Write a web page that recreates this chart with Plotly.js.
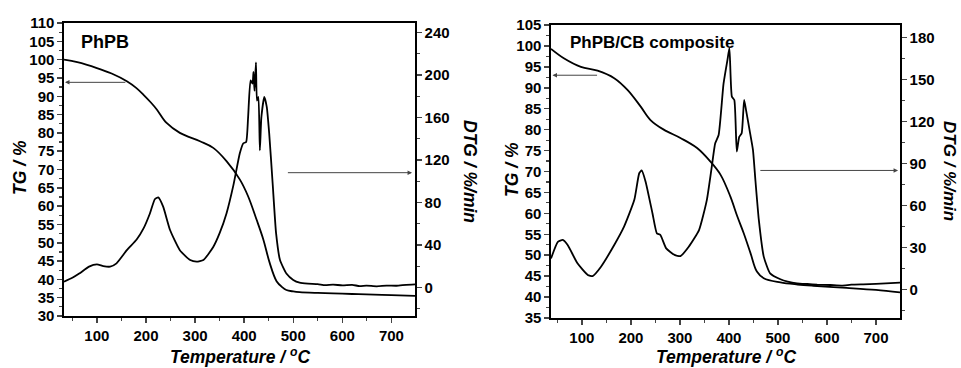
<!DOCTYPE html>
<html>
<head>
<meta charset="utf-8">
<script src="https://cdn.plot.ly/plotly-3.0.1.min.js"></script>
<style>html,body{margin:0;padding:0;background:#fff}#chart{width:961px;height:368px}</style>
</head>
<body>
<div id="chart"></div>
<script>
// ---- PhPB (left panel) ----
const tgT1 = [33, 60, 100, 130, 161, 180, 195, 210, 222, 242, 269, 310, 337, 364, 391, 408, 425, 439, 452, 466, 478, 486, 500, 513, 550, 581, 620, 649, 700, 748];
const tgV1 = [100, 99.3, 97.7, 96.2, 94.1, 92.3, 90.4, 88.3, 86.4, 82.7, 80, 77.7, 75.9, 72.3, 67.3, 62.7, 56.4, 50.9, 44.5, 39.5, 37.8, 37.1, 36.7, 36.5, 36.3, 36.2, 36.0, 35.9, 35.7, 35.5];
const dtgT1 = [33, 50, 64, 84, 100, 113, 127, 140, 161, 181, 195, 208, 218, 225, 235, 249, 269, 290, 303, 317, 337, 350, 364, 378, 391, 398, 404, 408, 413, 417, 419, 421, 424, 426, 429, 432, 435, 441, 446, 451, 458, 465, 473, 486, 500, 513, 530, 550, 565, 581, 600, 620, 635, 649, 670, 690, 710, 730, 748];
const dtgV1 = [5.3, 9, 13, 19.5, 21.6, 20, 19.5, 22.6, 35, 45, 55.5, 69.6, 83, 84.7, 76, 54, 35, 25.7, 24.2, 25.7, 38, 51, 69.6, 96, 126, 135.5, 137, 160, 195, 192, 203, 185, 212, 176, 179.5, 129, 160, 179.5, 170, 145, 98, 51, 25.7, 13, 7, 4.4, 3.5, 3.0, 2.0, 2.6, 1.8, 2.3, 1.2, 1.6, 1.0, 1.7, 1.5, 2.4, 2.8];

// ---- PhPB/CB composite (right panel) ----
const tgT2 = [37, 64, 98, 132, 166, 193, 220, 240, 267, 301, 335, 362, 383, 403, 417, 430, 444, 457, 471, 505, 540, 572, 640, 700, 749];
const tgV2 = [99.3, 97, 95, 94.1, 92.3, 89.5, 85.5, 82.3, 80, 78, 75.6, 72.4, 69.2, 64, 59.3, 55.3, 50.5, 46.1, 44.5, 43.5, 43.0, 42.7, 42.2, 41.7, 41.1];
const dtgT2 = [37, 51, 61, 71, 91, 112, 122, 139, 166, 186, 207, 217, 222, 230, 244, 253, 260, 272, 289, 301, 318, 339, 355, 365, 372, 379, 389, 397, 401, 406, 411, 416, 421, 426, 431, 435, 442, 449, 454, 461, 471, 484, 505, 520, 539, 560, 580, 607, 630, 650, 674, 700, 720, 749];
const dtgV2 = [22, 34, 35.3, 31.7, 18.6, 10.3, 9.5, 16.2, 31.7, 44.8, 64, 83, 85, 77, 54.4, 40, 38.9, 29.3, 24.6, 23.8, 30.5, 42.4, 64, 87.7, 104.4, 110.4, 147, 164, 172.4, 137.8, 135.4, 98.5, 109, 111.6, 135.4, 128, 114, 99.7, 78, 49.6, 23.4, 11.4, 7.2, 5.5, 4.3, 3.8, 3.4, 3.1, 2.7, 3.3, 3.6, 3.9, 4.3, 4.8];

const xTicks = [100, 200, 300, 400, 500, 600, 700];

const FONT = "'Liberation Sans', Arial, sans-serif";
const smooth = {color: '#000', width: 1.8, shape: 'spline', smoothing: 1};
const dline = {color: '#000', width: 1.8, shape: 'spline', smoothing: 0.5};
const traces = [
  {x: tgT1, y: tgV1, xaxis: 'x', yaxis: 'y', mode: 'lines', line: smooth, hoverinfo: 'skip'},
  {x: dtgT1, y: dtgV1, xaxis: 'x', yaxis: 'y2', mode: 'lines', line: dline, hoverinfo: 'skip'},
  {x: tgT2, y: tgV2, xaxis: 'x2', yaxis: 'y3', mode: 'lines', line: smooth, hoverinfo: 'skip'},
  {x: dtgT2, y: dtgV2, xaxis: 'x2', yaxis: 'y4', mode: 'lines', line: dline, hoverinfo: 'skip'}
];

const W = 961, H = 368;
const tickFont = {family: FONT, size: 15, color: '#000', weight: 'bold'};
function xa(dom, range, anchor) {
  return {domain: dom, range: range, anchor: anchor, tickvals: xTicks, ticks: 'outside', ticklen: 5, tickwidth: 1.5,
    minor: {dtick: 50, tick0: 0, ticks: 'outside', ticklen: 3, tickwidth: 1.2},
    showline: true, linewidth: 1.6, linecolor: '#000', mirror: true, showgrid: false, zeroline: false,
    tickfont: tickFont, fixedrange: true};
}
function ya(dom, range, dtick, anchor, side, overlay) {
  const o = {domain: dom, range: range, anchor: anchor, side: side, dtick: dtick, tick0: 0, ticks: 'outside', ticklen: 5, tickwidth: 1.5,
    minor: {dtick: dtick / 2, tick0: 0, ticks: 'outside', ticklen: 3, tickwidth: 1.2},
    showline: true, linewidth: 1.6, linecolor: '#000', showgrid: false, zeroline: false,
    tickfont: tickFont, fixedrange: true};
  if (overlay) o.overlaying = overlay;
  return o;
}
const d1x = [64 / W, 415 / W], d1y = [1 - 316 / H, 1 - 23 / H];
const d2x = [551 / W, 900 / W], d2y = [1 - 318 / H, 1 - 25 / H];

function ttl(text, px, py, angle, size) {
  return {text: text, xref: 'paper', yref: 'paper', x: px / W, y: 1 - py / H, xanchor: 'center', yanchor: 'middle',
    showarrow: false, textangle: angle, font: {family: FONT, size: size || 17.5, color: '#000', weight: 'bold', style: 'italic'}};
}
function arrow(xr, yr, x, y, ax, ay) {
  return {xref: xr, yref: yr, axref: xr, ayref: yr, x: x, y: y, ax: ax, ay: ay, text: '', showarrow: true,
    arrowhead: 2, arrowsize: 0.9, arrowwidth: 1, arrowcolor: '#444'};
}

const layout = {
  width: W, height: H, margin: {l: 0, r: 0, t: 0, b: 0}, showlegend: false,
  paper_bgcolor: '#fff', plot_bgcolor: '#fff', font: {family: FONT, color: '#000'},
  xaxis: xa(d1x, [33, 748], 'y'),
  yaxis: ya(d1y, [30, 110], 5, 'x', 'left'),
  yaxis2: ya(d1y, [-27, 249], 40, 'x', 'right', 'y'),
  xaxis2: xa(d2x, [37, 749], 'y3'),
  yaxis3: ya(d2y, [35, 105], 5, 'x2', 'left'),
  yaxis4: ya(d2y, [-20.5, 189], 30, 'x2', 'right', 'y3'),
  annotations: [
    {text: 'PhPB', xref: 'x', yref: 'y', x: 64, y: 104.7, xanchor: 'left', yanchor: 'middle', showarrow: false,
     font: {family: FONT, size: 18, color: '#000', weight: 'bold'}},
    {text: 'PhPB/CB composite', xref: 'x2', yref: 'y3', x: 71.5, y: 100.9, xanchor: 'left', yanchor: 'middle', showarrow: false,
     font: {family: FONT, size: 17, color: '#000', weight: 'bold'}},
    ttl('TG / %', 20, 168, -90),
    ttl('DTG / %/min', 470, 171, 90),
    ttl('Temperature / <sup>o</sup>C', 240, 356, 0),
    ttl('TG / %', 512, 170, -90),
    ttl('DTG / %/min', 950, 171, 90, 17),
    ttl('Temperature / <sup>o</sup>C', 726, 356, 0),
    arrow('x', 'y', 35, 93.8, 161, 93.8),
    arrow('x', 'y2', 742, 108, 486, 108),
    arrow('x2', 'y3', 40, 93, 134, 93),
    arrow('x2', 'y4', 745, 85, 461, 85)
  ]
};
Plotly.newPlot('chart', traces, layout, {staticPlot: true, displayModeBar: false});
</script>
</body>
</html>
